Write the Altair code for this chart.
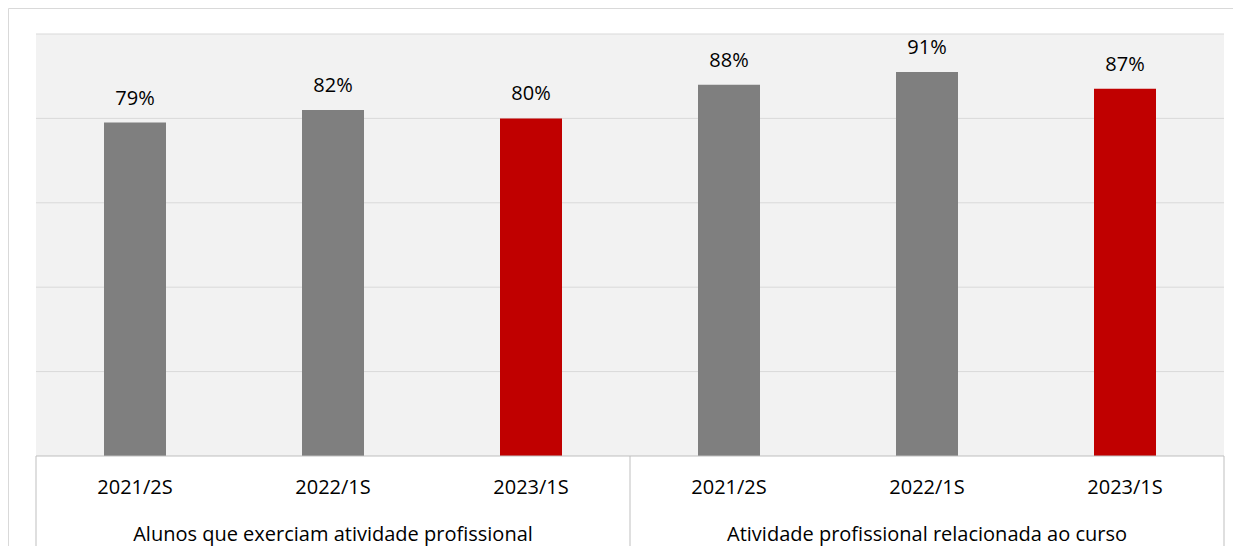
import altair as alt
import pandas as pd

periods = ["2021/2S", "2022/1S", "2023/1S", "2021/2S", "2022/1S", "2023/1S"]
group_names = [
    "Alunos que exerciam atividade profissional",
    "Atividade profissional relacionada ao curso",
]
group_of = [0, 0, 0, 1, 1, 1]
values = [79, 82, 80, 88, 91, 87]
highlight = ["anterior", "anterior", "atual", "anterior", "anterior", "atual"]

FONT = "Open Sans"
W, H = 1188, 422

bars_df = pd.DataFrame({
    "pos": [i + 0.5 for i in range(len(periods))],
    "period": periods,
    "value": values,
    "label": [f"{v}%" for v in values],
    "kind": highlight,
})
groups_df = pd.DataFrame({
    "center": [sum(i + 0.5 for i, g in enumerate(group_of) if g == k) / group_of.count(k)
               for k in range(len(group_names))],
    "name": group_names,
})
bounds_df = pd.DataFrame({"b": [0, 3, 6]})
base_df = pd.DataFrame({"x0": [0], "x1": [6], "y0": [0]})

xs = alt.Scale(domain=[0, 6], nice=False, zero=False, padding=0)
ys = alt.Scale(domain=[0, 100], nice=False, padding=0)

grid = alt.Chart(pd.DataFrame({"g": [20, 40, 60, 80, 100]})).mark_rule(
    color="#d9d9d9", strokeWidth=1
).encode(y=alt.Y("g:Q", scale=ys, axis=None))

bars = alt.Chart(bars_df).mark_bar(size=62).encode(
    x=alt.X("pos:Q", scale=xs, axis=None),
    y=alt.Y("value:Q", scale=ys, axis=None),
    color=alt.Color("kind:N", scale=alt.Scale(domain=["anterior", "atual"],
                                              range=["#7f7f7f", "#c00000"]), legend=None),
)

labels = alt.Chart(bars_df).mark_text(
    font=FONT, fontSize=20, color="#000000", baseline="alphabetic", dy=-18
).encode(
    x=alt.X("pos:Q", scale=xs),
    y=alt.Y("value:Q", scale=ys),
    text="label:N",
)

cat_labels = alt.Chart(bars_df).mark_text(
    font=FONT, fontSize=20, color="#000000", baseline="alphabetic"
).encode(
    x=alt.X("pos:Q", scale=xs),
    y=alt.value(H + 38),
    text="period:N",
)

grp_labels = alt.Chart(groups_df).mark_text(
    font=FONT, fontSize=20, color="#000000", baseline="alphabetic"
).encode(
    x=alt.X("center:Q", scale=xs),
    y=alt.value(H + 85),
    text="name:N",
)

base_line = alt.Chart(base_df).mark_rule(color="#bfbfbf", strokeWidth=1).encode(
    x=alt.X("x0:Q", scale=xs), x2="x1:Q", y=alt.Y("y0:Q", scale=ys)
)

sep_lines = alt.Chart(bounds_df).mark_rule(color="#bfbfbf", strokeWidth=1).encode(
    x=alt.X("b:Q", scale=xs), y=alt.value(H), y2=alt.value(H + 94)
)

frame_top = alt.Chart(base_df).mark_rule(color="#d9d9d9", strokeWidth=1).encode(
    x=alt.value(-27.5), x2=alt.value(W + 9), y=alt.value(-25.5)
)
frame_left = alt.Chart(base_df).mark_rule(color="#d9d9d9", strokeWidth=1).encode(
    x=alt.value(-27.5), y=alt.value(-25.5), y2=alt.value(H + 94)
)

chart = alt.layer(
    grid, bars, labels, cat_labels, grp_labels, base_line, sep_lines, frame_top, frame_left
).properties(
    width=W,
    height=H,
    padding={"left": 28, "top": 26, "right": 9, "bottom": 90},
    autosize=alt.AutoSizeParams(type="none"),
    background="#ffffff",
).configure_view(fill="#f2f2f2", strokeWidth=0)

chart.save("out.html", embed_options={"renderer": "svg", "actions": False})
